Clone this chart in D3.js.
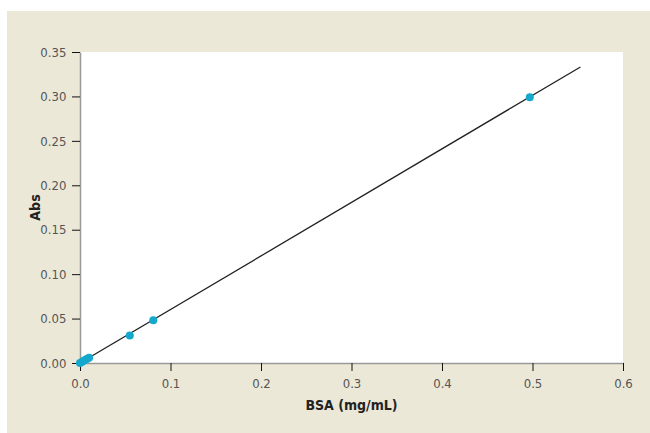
<!DOCTYPE html>
<html lang="en">
<head>
<meta charset="UTF-8">
<title>BSA standard curve</title>
<script src="https://d3js.org/d3.v7.min.js"></script>
<style>
  body { margin: 0; padding: 0; background: #fff; }
  svg text { font-family: "Liberation Sans Narrow", "DejaVu Sans Condensed", sans-serif; }
  .tick text { fill: #555; font-size: 13px; }
  .tick line { stroke: #111; }
  .domain { stroke: #999; stroke-width: 1.5px; }
  .axis-label { fill: #222; font-size: 14px; font-weight: bold; }
</style>
</head>
<body>
<svg width="650" height="433"></svg>
<script>
  // measured standards
  const bsa = [0, 0.0025, 0.005, 0.0075, 0.01, 0.055, 0.081, 0.497];
  const abs = [0, 0.0015, 0.003, 0.0045, 0.006, 0.031, 0.048, 0.299];
  // linear fit drawn across the range
  const fitX = [0, 0.553];
  const fitSlope = 0.6025;

  const xTicks = [0, 0.1, 0.2, 0.3, 0.4, 0.5, 0.6];
  const yTicks = [0, 0.05, 0.10, 0.15, 0.20, 0.25, 0.30, 0.35];

  const svg = d3.select("svg");
  const margin = { top: 52, right: 27, bottom: 70, left: 80 };
  const W = 650, H = 433;
  const width = W - margin.left - margin.right;
  const height = H - margin.top - margin.bottom;

  // beige panel
  svg.append("rect").attr("x", 7).attr("y", 11).attr("width", W - 7).attr("height", H - 11).attr("fill", "#ece8d8");

  const g = svg.append("g").attr("transform", `translate(${margin.left},${margin.top})`);
  g.append("rect").attr("width", width).attr("height", height).attr("fill", "#fff");

  const x = d3.scaleLinear().domain([0, 0.6]).range([0, width]);
  const y = d3.scaleLinear().domain([0, 0.35]).range([height, 0]);

  const xAxis = g.append("g").attr("transform", `translate(0,${height})`)
    .call(d3.axisBottom(x).tickValues(xTicks).tickFormat(d3.format(".1f")).tickSize(8).tickSizeOuter(0));
  xAxis.selectAll(".tick text").attr("dy", "1.05em");

  const yAxis = g.append("g")
    .call(d3.axisLeft(y).tickValues(yTicks).tickFormat(d3.format(".2f")).tickSize(8).tickSizeOuter(0));
  yAxis.selectAll(".tick text").attr("dx", "-0.2em");

  // fit line
  g.append("line")
    .attr("x1", x(fitX[0])).attr("y1", y(fitX[0] * fitSlope))
    .attr("x2", x(fitX[1])).attr("y2", y(fitX[1] * fitSlope))
    .attr("stroke", "#222").attr("stroke-width", 1.3);

  g.selectAll("circle.pt").data(bsa).join("circle")
    .attr("class", "pt")
    .attr("cx", d => x(d))
    .attr("cy", (d, i) => y(abs[i]))
    .attr("r", 4)
    .attr("fill", "#14a8cc");

  svg.append("text").attr("class", "axis-label")
    .attr("x", margin.left + x(0.3)).attr("y", 410)
    .attr("text-anchor", "middle").text("BSA (mg/mL)");

  svg.append("text").attr("class", "axis-label")
    .attr("transform", `translate(40,${margin.top + height / 2}) rotate(-90)`)
    .attr("text-anchor", "middle").text("Abs");
</script>
</body>
</html>
